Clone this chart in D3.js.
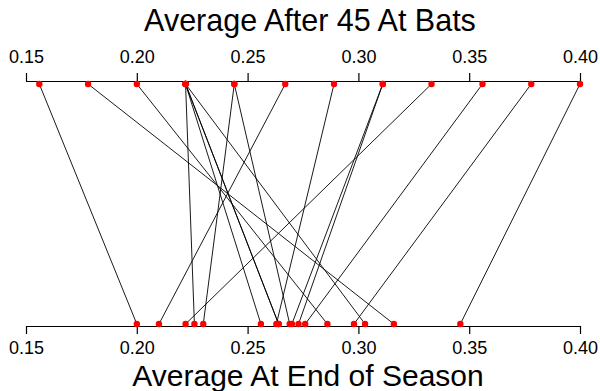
<!DOCTYPE html>
<meta charset="utf-8">
<style>
body { margin: 0; background: #fff; }
text { font-family: "Liberation Sans", Arial, sans-serif; fill: #000; }
.links line { stroke: #000; stroke-width: 0.9px; }
.dots circle { fill: #ff0000; }
.axis path, .axis line { stroke: #000; stroke-width: 1.2px; }
</style>
<body>
<svg width="600" height="391"></svg>
<script src="https://d3js.org/d3.v7.min.js"></script>
<script>
// Efron-Morris batting averages, 18 players
var players = ["Clemente", "F. Robinson", "F. Howard", "Johnstone", "Berry", "Spencer",
  "Kessinger", "L. Alvarado", "Santo", "Swoboda", "Unser", "Williams", "Scott",
  "Petrocelli", "E. Rodriguez", "Campaneris", "Munson", "Alvis"];
var after45 = [0.400, 0.378, 0.356, 0.333, 0.311, 0.311, 0.289, 0.267, 0.244, 0.244,
  0.222, 0.222, 0.222, 0.222, 0.222, 0.200, 0.178, 0.156];
var endSeason = [0.346, 0.298, 0.276, 0.222, 0.273, 0.270, 0.263, 0.210, 0.269, 0.230,
  0.264, 0.256, 0.303, 0.264, 0.226, 0.286, 0.316, 0.200];
var tickValues = [0.15, 0.20, 0.25, 0.30, 0.35, 0.40];

var data = players.map(function(p, i) {
  return { name: p, start: after45[i], end: endSeason[i] };
});

var svg = d3.select("svg");
var topY = 81, botY = 326;   // axis lines
var topDot = 84, botDot = 324;

var x = d3.scaleLinear().domain([0.15, 0.40]).range([26, 580]);

svg.append("g")
    .attr("class", "axis")
    .attr("transform", "translate(0," + topY + ")")
    .call(d3.axisTop(x).tickValues(tickValues).tickFormat(d3.format(".2f")).tickSizeOuter(0).tickSize(8).tickPadding(10));

svg.append("g")
    .attr("class", "axis")
    .attr("transform", "translate(0," + botY + ")")
    .call(d3.axisBottom(x).tickValues(tickValues).tickFormat(d3.format(".2f")).tickSizeOuter(0).tickSize(8).tickPadding(7));

svg.selectAll(".axis text").style("font-size", "18px").attr("fill", "#000");
svg.selectAll(".axis .domain").attr("d", "M" + x(0.15) + ",0.5H" + x(0.40));

svg.append("g").attr("class", "links")
  .selectAll("line")
  .data(data)
  .enter().append("line")
    .attr("x1", function(d) { return x(d.start); })
    .attr("y1", topDot)
    .attr("x2", function(d) { return x(d.end); })
    .attr("y2", botDot);

var dots = svg.append("g").attr("class", "dots");
dots.selectAll("circle.top")
  .data(data)
  .enter().append("circle")
    .attr("class", "top")
    .attr("cx", function(d) { return x(d.start); })
    .attr("cy", topDot)
    .attr("r", 3.2);
dots.selectAll("circle.bot")
  .data(data)
  .enter().append("circle")
    .attr("class", "bot")
    .attr("cx", function(d) { return x(d.end); })
    .attr("cy", botDot)
    .attr("r", 3.2);

svg.append("text")
    .attr("x", 310)
    .attr("y", 31)
    .attr("text-anchor", "middle")
    .style("font-size", "30.5px")
    .text("Average After 45 At Bats");

svg.append("text")
    .attr("x", 308)
    .attr("y", 386)
    .attr("text-anchor", "middle")
    .style("font-size", "30px")
    .text("Average At End of Season");
</script>
</body>
